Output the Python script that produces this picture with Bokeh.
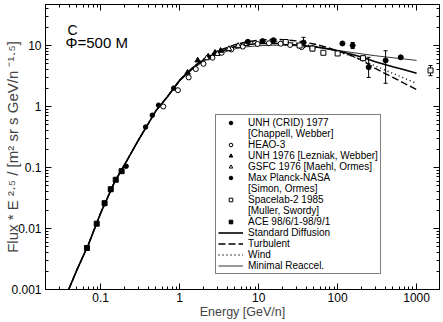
from bokeh.plotting import figure
from bokeh.models import (LogAxis, FixedTicker, CustomJSTickFormatter, Label, Legend,
                          LegendItem, Range1d, ColumnDataSource, Whisker, TeeHead)
from bokeh.embed import file_html
from bokeh.resources import INLINE

FONT = "Liberation Sans"

# ---------------- model curves ----------------
E_MODEL = [0.035, 0.05, 0.07, 0.1, 0.15, 0.2, 0.3, 0.5, 0.7, 1, 1.5, 2, 3, 5, 7, 10, 15, 20,
           30, 50, 70, 100, 150, 200, 300, 500, 700, 1000]
LOW = [0.0007, 0.0021, 0.0055, 0.018, 0.058, 0.11, 0.28, 0.85, 1.45]
STD = LOW + [2.7, 4.4, 5.8, 7.7, 9.5, 10.3, 10.8, 10.9, 10.7, 10.2, 9.6, 9.0, 8.2, 7.2, 6.5, 5.4, 4.5, 4.0, 3.5]
TURB = LOW + [2.7, 4.5, 6.0, 8.1, 10.3, 11.4, 12.2, 12.6, 12.5, 11.9, 10.6, 9.5, 8.2, 6.8, 5.8, 4.2, 3.0, 2.4, 1.9]
WIND = LOW + [2.7, 4.4, 5.9, 7.9, 9.9, 10.9, 11.5, 11.7, 11.5, 10.9, 9.8, 8.9, 7.9, 6.7, 5.8, 4.6, 3.5, 2.9, 2.4]
MINR = LOW + [2.6, 4.2, 5.5, 7.2, 8.8, 9.5, 9.9, 10.1, 10.1, 9.9, 9.4, 8.9, 8.3, 7.7, 7.3, 6.8, 6.3, 6.0, 5.7]

# ---------------- data points ----------------
UNH77_E = [0.21, 0.37, 0.45, 0.54, 0.84]
UNH77_F = [0.105, 0.46, 0.72, 1.05, 2.0]
HEAO_E = [0.62, 0.95, 1.3, 1.6, 2.0, 2.6, 3.4, 4.5, 6.3, 9.7, 13.5, 19, 25, 35]
HEAO_F = [1.0, 1.85, 3.0, 4.1, 5.0, 6.3, 7.6, 8.6, 9.6, 10.6, 10.9, 10.7, 10.2, 9.4]
UNH76_E = [1.26, 1.69, 2.3, 2.8, 3.3]
UNH76_F = [3.6, 5.7, 6.6, 7.6, 8.2]
GSFC_E = [2.2, 3.0, 4.2, 5.5, 7.0]
GSFC_F = [6.2, 7.3, 8.8, 9.9, 10.6]
MPN_E = [7.3, 11.2, 15.4, 22, 37, 48, 115, 155, 247, 405, 630]
MPN_F = [11.5, 11.8, 12.2, 11.3, 11.2, 8.9, 10.8, 10.0, 4.4, 5.7, 6.4]
SL2_E = [22, 33, 48, 66, 100, 210, 1500]
SL2_F = [11.4, 10.0, 8.9, 7.6, 7.4, 6.2, 3.9]
ACE_E = [0.067, 0.089, 0.112, 0.134, 0.155, 0.184]
ACE_F = [0.0048, 0.012, 0.026, 0.044, 0.063, 0.087]
ERR_E = [37, 155, 247, 405, 1500]
ERR_LO = [9.3, 8.9, 3.0, 2.4, 3.2]
ERR_HI = [13.6, 11.2, 6.4, 8.2, 4.7]

X_TICKS = [0.1, 1, 10, 100, 1000]
X_TICK_LABELS = ["0.1", "1", "10", "100", "1000"]
Y_TICKS = [0.001, 0.01, 0.1, 1, 10]
Y_TICK_LABELS = ["0.001", "0.01", "0.1", "1", "10"]

X_LABEL = "Energy [GeV/n]"
Y_LABEL = "Flux * E \u00b2\u00b7\u2075 / [m\u00b2 sr s GeV/n \u207b\u00b9\u00b7\u2075]"
LEGEND_LABELS = ["UNH (CRID) 1977", "[Chappell, Webber]", "HEAO-3", "UNH 1976 [Lezniak, Webber]",
                 "GSFC 1976 [Maehl, Ormes]", "Max Planck-NASA", "[Simon, Ormes]", "Spacelab-2 1985",
                 "[Muller, Swordy]", "ACE 98/6/1-98/9/1", "Standard Diffusion", "Turbulent", "Wind",
                 "Minimal Reaccel."]

p = figure(width=442, height=321, x_axis_type="log", y_axis_type="log",
           x_range=Range1d(0.02, 1950), y_range=Range1d(0.001, 47),
           output_backend="svg", toolbar_location=None,
           min_border_left=45, min_border_right=3, min_border_top=4, min_border_bottom=31)
p.grid.visible = False
p.outline_line_color = "black"
p.background_fill_color = "white"


def minors(lo, hi):
    out = []
    for k in range(lo, hi):
        for m in range(2, 10):
            out.append(m * 10.0 ** k)
    return out


def fmt(ticks, labels):
    return CustomJSTickFormatter(args=dict(t=ticks, l=labels), code="""
        for (let i = 0; i < t.length; i++) {
            if (Math.abs(t[i] - tick) <= 1e-6 * t[i]) return l[i];
        }
        return "";""")


def style(ax, ticks, labels, minor_list, show):
    ax.ticker = FixedTicker(ticks=ticks, minor_ticks=minor_list)
    ax.major_tick_in = 6
    ax.major_tick_out = 0
    ax.minor_tick_in = 3
    ax.minor_tick_out = 0
    ax.axis_line_color = "black"
    ax.major_tick_line_color = "black"
    ax.minor_tick_line_color = "black"
    if show:
        ax.formatter = fmt(ticks, labels)
        ax.major_label_text_font = FONT
        ax.major_label_text_font_size = "12px"
        ax.major_label_text_color = "black"
    else:
        ax.major_label_text_font_size = "1px"
        ax.major_label_text_color = None
        ax.major_label_standoff = 0


xmin = minors(-2, 4)
ymin = minors(-3, 2)
style(p.xaxis[0], X_TICKS, X_TICK_LABELS, xmin, True)
style(p.yaxis[0], Y_TICKS, Y_TICK_LABELS, ymin, True)
p.xaxis[0].major_label_standoff = 3
p.yaxis[0].major_label_standoff = 4
p.xaxis[0].axis_label = X_LABEL
p.xaxis[0].axis_label_text_font = FONT
p.xaxis[0].axis_label_text_font_size = "12.5px"
p.xaxis[0].axis_label_text_font_style = "normal"
p.xaxis[0].axis_label_standoff = 0
p.yaxis[0].axis_label = Y_LABEL
p.yaxis[0].axis_label_text_font = FONT
p.yaxis[0].axis_label_text_font_size = "15px"
p.yaxis[0].axis_label_text_font_style = "normal"
p.yaxis[0].axis_label_standoff = -13

top = LogAxis()
style(top, X_TICKS, X_TICK_LABELS, xmin, False)
p.add_layout(top, "above")
right = LogAxis()
style(right, Y_TICKS, Y_TICK_LABELS, ymin, False)
p.add_layout(right, "right")

# model curves
r_std = p.line(E_MODEL, STD, line_color="black", line_width=1.6)
r_turb = p.line(E_MODEL, TURB, line_color="black", line_width=1.4, line_dash="7 3")
r_wind = p.line(E_MODEL, WIND, line_color="black", line_width=1.4, line_dash="1 3")
r_minr = p.line(E_MODEL, MINR, line_color="black", line_width=0.8)

# error bars
err = ColumnDataSource(dict(x=ERR_E, lo=ERR_LO, hi=ERR_HI))
p.add_layout(Whisker(source=err, base="x", lower="lo", upper="hi", line_color="black", line_width=1,
                     lower_head=TeeHead(size=4, line_color="black", line_width=1),
                     upper_head=TeeHead(size=4, line_color="black", line_width=1)))

# data
r_unh77 = p.scatter(UNH77_E, UNH77_F, marker="circle", size=4.5, color="black")
r_heao = p.scatter(HEAO_E, HEAO_F, marker="circle", size=5, fill_color="white", line_color="black", line_width=1)
r_unh76 = p.scatter(UNH76_E, UNH76_F, marker="triangle", size=5.5, color="black")
r_gsfc = p.scatter(GSFC_E, GSFC_F, marker="triangle", size=5.5, fill_color="white", line_color="black", line_width=1)
r_mpn = p.scatter(MPN_E, MPN_F, marker="circle", size=5, color="black")
r_sl2 = p.scatter(SL2_E, SL2_F, marker="square", size=5, fill_color="white", line_color="black", line_width=1)
r_ace = p.scatter(ACE_E, ACE_F, marker="square", size=5, color="black")

blank = p.scatter(x=[1.0], y=[1.0], size=1, fill_alpha=0, line_alpha=0)

rends = [r_unh77, blank, r_heao, r_unh76, r_gsfc, r_mpn, blank, r_sl2, blank, r_ace,
         r_std, r_turb, r_wind, r_minr]
items = [LegendItem(label=lab, renderers=[r]) for lab, r in zip(LEGEND_LABELS, rends)]
legend = Legend(items=items, location=(170, 15), orientation="vertical",
                border_line_color="black", border_line_width=1.2, background_fill_color="white",
                background_fill_alpha=1, label_text_font=FONT, label_text_font_size="10px",
                label_height=9, label_width=122, glyph_height=9, glyph_width=25, spacing=0,
                padding=2, margin=0, label_standoff=5, label_text_color="black")
p.add_layout(legend, "center")

# annotations
p.add_layout(Label(x=22, y=252, x_units="screen", y_units="screen", text="C",
                   text_font=FONT, text_font_size="14px", text_color="black"))
p.add_layout(Label(x=20, y=239, x_units="screen", y_units="screen", text="\u03a6=500 M",
                   text_font=FONT, text_font_size="15px", text_color="black"))

open("out.html", "w").write(file_html(p, INLINE))
